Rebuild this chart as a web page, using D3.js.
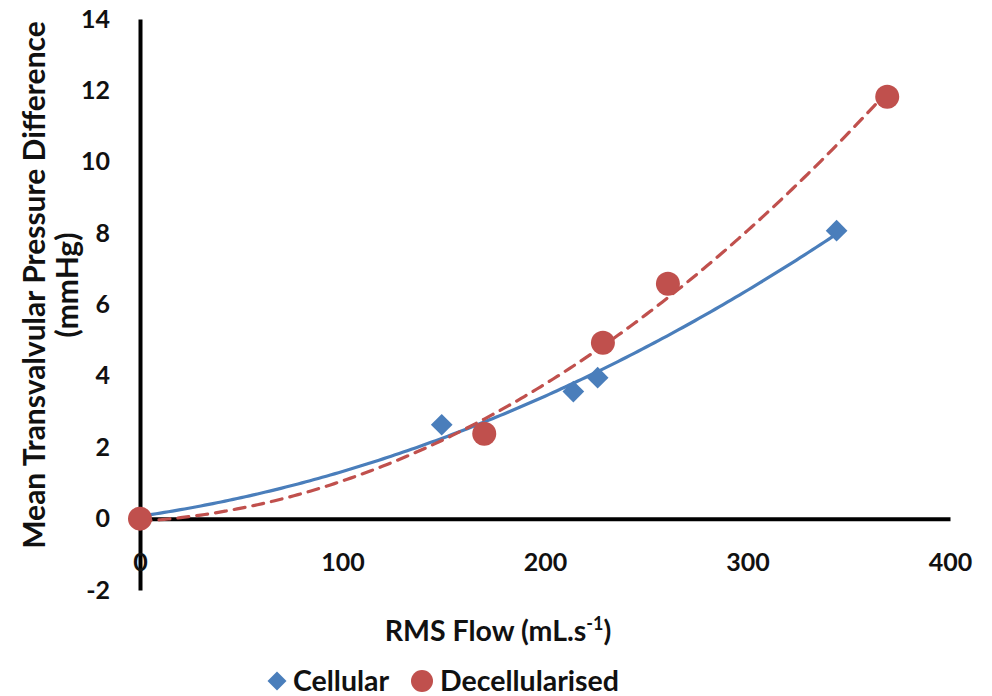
<!DOCTYPE html>
<html>
<head>
<meta charset="utf-8">
<script src="https://cdn.jsdelivr.net/npm/d3@7"></script>
<style>
  body { margin: 0; background: #fff; }
  text { font-family: Lato, "Open Sans", sans-serif; font-weight: bold; fill: #111; }
</style>
</head>
<body>
<svg id="chart" width="992" height="696"></svg>
<script>
// data
const cellularFlow = [0, 149, 214, 226, 344];
const cellularDp   = [0, 2.63, 3.56, 3.95, 8.07];
const decelFlow    = [0, 170, 228.6, 260.7, 369];
const decelDp      = [0, 2.38, 4.93, 6.58, 11.82];
const xTicks = [0, 100, 200, 300, 400];
const yTicks = [-2, 0, 2, 4, 6, 8, 10, 12, 14];

const blue = "#4a7ebb";
const red = "#c0504d";

const svg = d3.select("#chart");
const x = d3.scaleLinear().domain([0, 400]).range([140, 950]);
const y = d3.scaleLinear().domain([-2, 14]).range([590, 19]);

// quadratic least squares, like the spreadsheet trendline
function quadFit(xs, ys) {
  let s = [0, 0, 0, 0, 0], t = [0, 0, 0];
  xs.forEach((xi, i) => {
    for (let k = 0; k < 5; k++) s[k] += Math.pow(xi, k);
    for (let k = 0; k < 3; k++) t[k] += ys[i] * Math.pow(xi, k);
  });
  const M = [[s[0], s[1], s[2], t[0]], [s[1], s[2], s[3], t[1]], [s[2], s[3], s[4], t[2]]];
  for (let i = 0; i < 3; i++) {
    for (let j = i + 1; j < 3; j++) {
      const f = M[j][i] / M[i][i];
      for (let k = i; k < 4; k++) M[j][k] -= f * M[i][k];
    }
  }
  const c = [0, 0, 0];
  for (let i = 2; i >= 0; i--) {
    let v = M[i][3];
    for (let k = i + 1; k < 3; k++) v -= M[i][k] * c[k];
    c[i] = v / M[i][i];
  }
  return xv => c[0] + c[1] * xv + c[2] * xv * xv;
}

// axes
const yAxis = svg.append("g")
  .attr("transform", `translate(${x(0)},0)`)
  .call(d3.axisLeft(y).tickValues(yTicks).tickSize(0).tickPadding(30).tickFormat(d => String(d)));
const xAxis = svg.append("g")
  .attr("transform", `translate(0,${y(0)})`)
  .call(d3.axisBottom(x).tickValues(xTicks).tickSize(0).tickPadding(35).tickFormat(d => String(d)));
[xAxis, yAxis].forEach(g => {
  g.select(".domain").attr("stroke", "#000").attr("stroke-width", 4);
  g.selectAll("text").style("font-size", "25px").attr("fill", "#111");
});

// trend lines
const line = d3.line().x(d => x(d[0])).y(d => y(d[1])).curve(d3.curveLinear);
const cellFit = quadFit(cellularFlow, cellularDp);
const decelFit = quadFit(decelFlow, decelDp);
const cellX = d3.range(0, d3.max(cellularFlow) + 0.1, 2);
const decelX = d3.range(0, d3.max(decelFlow) + 0.1, 2);
svg.append("path")
  .attr("d", line(cellX.map(v => [v, cellFit(v)])))
  .attr("fill", "none").attr("stroke", blue).attr("stroke-width", 3.2);
svg.append("path")
  .attr("d", line(decelX.map(v => [v, decelFit(v)])))
  .attr("fill", "none").attr("stroke", red).attr("stroke-width", 3.2)
  .attr("stroke-dasharray", "11,8").attr("stroke-linecap", "round");

// markers
const diamond = d3.symbol().type(d3.symbolDiamond2).size(300);
svg.append("g").selectAll("path")
  .data(cellularFlow.map((v, i) => [v, cellularDp[i]]))
  .join("path")
  .attr("d", diamond)
  .attr("transform", d => `translate(${x(d[0])},${y(d[1])})`)
  .attr("fill", blue);
svg.append("g").selectAll("circle")
  .data(decelFlow.map((v, i) => [v, decelDp[i]]))
  .join("circle")
  .attr("cx", d => x(d[0])).attr("cy", d => y(d[1])).attr("r", 12)
  .attr("fill", red);

// axis titles
const xt = svg.append("text").attr("x", 498).attr("y", 641).attr("text-anchor", "middle").style("font-size", "28.5px");
xt.append("tspan").text("RMS Flow (mL.s");
xt.append("tspan").text("-1").attr("dy", -11).style("font-size", "18px");
xt.append("tspan").text(")").attr("dy", 11);

const yt = svg.append("text").attr("transform", "translate(0,285) rotate(-90)").attr("text-anchor", "middle").style("font-size", "30px");
yt.append("tspan").attr("x", 0).attr("y", 45).text("Mean Transvalvular Pressure Difference");
yt.append("tspan").attr("x", 0).attr("y", 78).text("(mmHg)");

// legend
const lg = svg.append("g").attr("transform", "translate(0,681)");
lg.append("path").attr("d", d3.symbol().type(d3.symbolDiamond2).size(230)).attr("transform", "translate(277,0)").attr("fill", blue);
lg.append("text").attr("x", 293).attr("y", 10).style("font-size", "28.5px").text("Cellular");
lg.append("circle").attr("cx", 422).attr("cy", 0).attr("r", 11).attr("fill", red);
lg.append("text").attr("x", 440).attr("y", 10).style("font-size", "28.5px").text("Decellularised");
</script>
</body>
</html>
